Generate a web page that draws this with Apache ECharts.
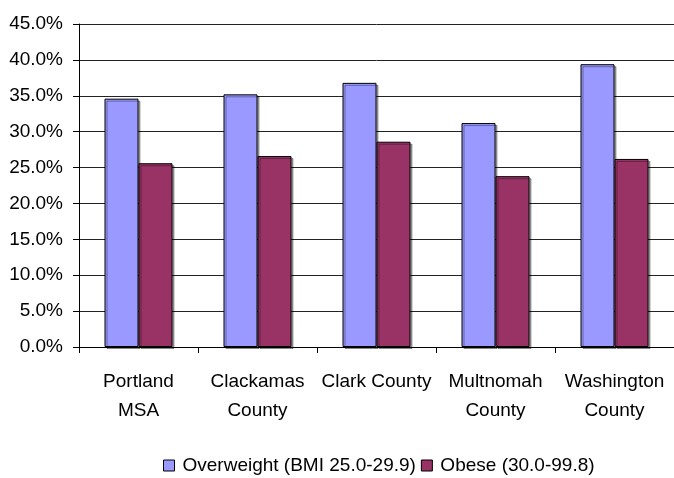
<!DOCTYPE html>
<html><head><meta charset="utf-8">
<script src="https://cdn.jsdelivr.net/npm/echarts@6/dist/echarts.min.js"></script>
<style>html,body{margin:0;padding:0;background:#fff}#c{width:674px;height:478px}</style>
</head><body><div id="c"></div>
<script>
const categories = ['Portland\nMSA', 'Clackamas\nCounty', 'Clark County', 'Multnomah\nCounty', 'Washington\nCounty'];
const overweight = [34.6, 35.2, 36.8, 31.2, 39.4];
const obese = [25.6, 26.6, 28.6, 23.8, 26.2];
const seriesNames = ['Overweight (BMI 25.0-29.9)', 'Obese (30.0-99.8)'];

const FONT = "'Liberation Sans', Arial, sans-serif";
const chart = echarts.init(document.getElementById('c'), null, {renderer: 'canvas'});
const barStyle = (c) => ({color: c, borderColor: '#000', borderWidth: 1,
  shadowColor: 'rgba(0,0,0,0.35)', shadowOffsetX: 2, shadowOffsetY: 2, shadowBlur: 0});
chart.setOption({
  animation: false,
  backgroundColor: '#fff',
  textStyle: {fontFamily: FONT},
  grid: {left: 79, right: -7, top: 24, bottom: 131, containLabel: false},
  legend: {
    left: 163, top: 456, padding: 0, itemWidth: 11, itemHeight: 11, itemGap: 5,
    icon: 'rect',
    textStyle: {fontFamily: FONT, fontSize: 19, color: '#000', padding: [0, 0, 0, 3]},
    data: seriesNames.map(n => ({name: n, itemStyle: {borderColor: '#000', borderWidth: 1}}))
  },
  xAxis: {
    type: 'category', data: categories,
    axisLine: {lineStyle: {color: '#000', width: 1}},
    axisTick: {show: true, length: 6, lineStyle: {color: '#000'}},
    axisLabel: {fontFamily: FONT, fontSize: 19, color: '#000', margin: 20, lineHeight: 29, interval: 0}
  },
  yAxis: {
    type: 'value', min: 0, max: 45, interval: 5,
    axisLine: {show: true, lineStyle: {color: '#000', width: 1}},
    axisTick: {show: true, length: 6, lineStyle: {color: '#000'}},
    axisLabel: {fontFamily: FONT, fontSize: 19, color: '#000', margin: 16,
      formatter: v => v.toFixed(1) + '%'},
    splitLine: {show: true, lineStyle: {color: '#222', width: 1}}
  },
  series: [
    {name: seriesNames[0], type: 'bar', data: overweight, barWidth: 34, barGap: '0%', itemStyle: barStyle('#9999FF')},
    {name: seriesNames[1], type: 'bar', data: obese, barWidth: 34, barGap: '0%', itemStyle: barStyle('#993366')}
  ]
});
</script></body></html>
